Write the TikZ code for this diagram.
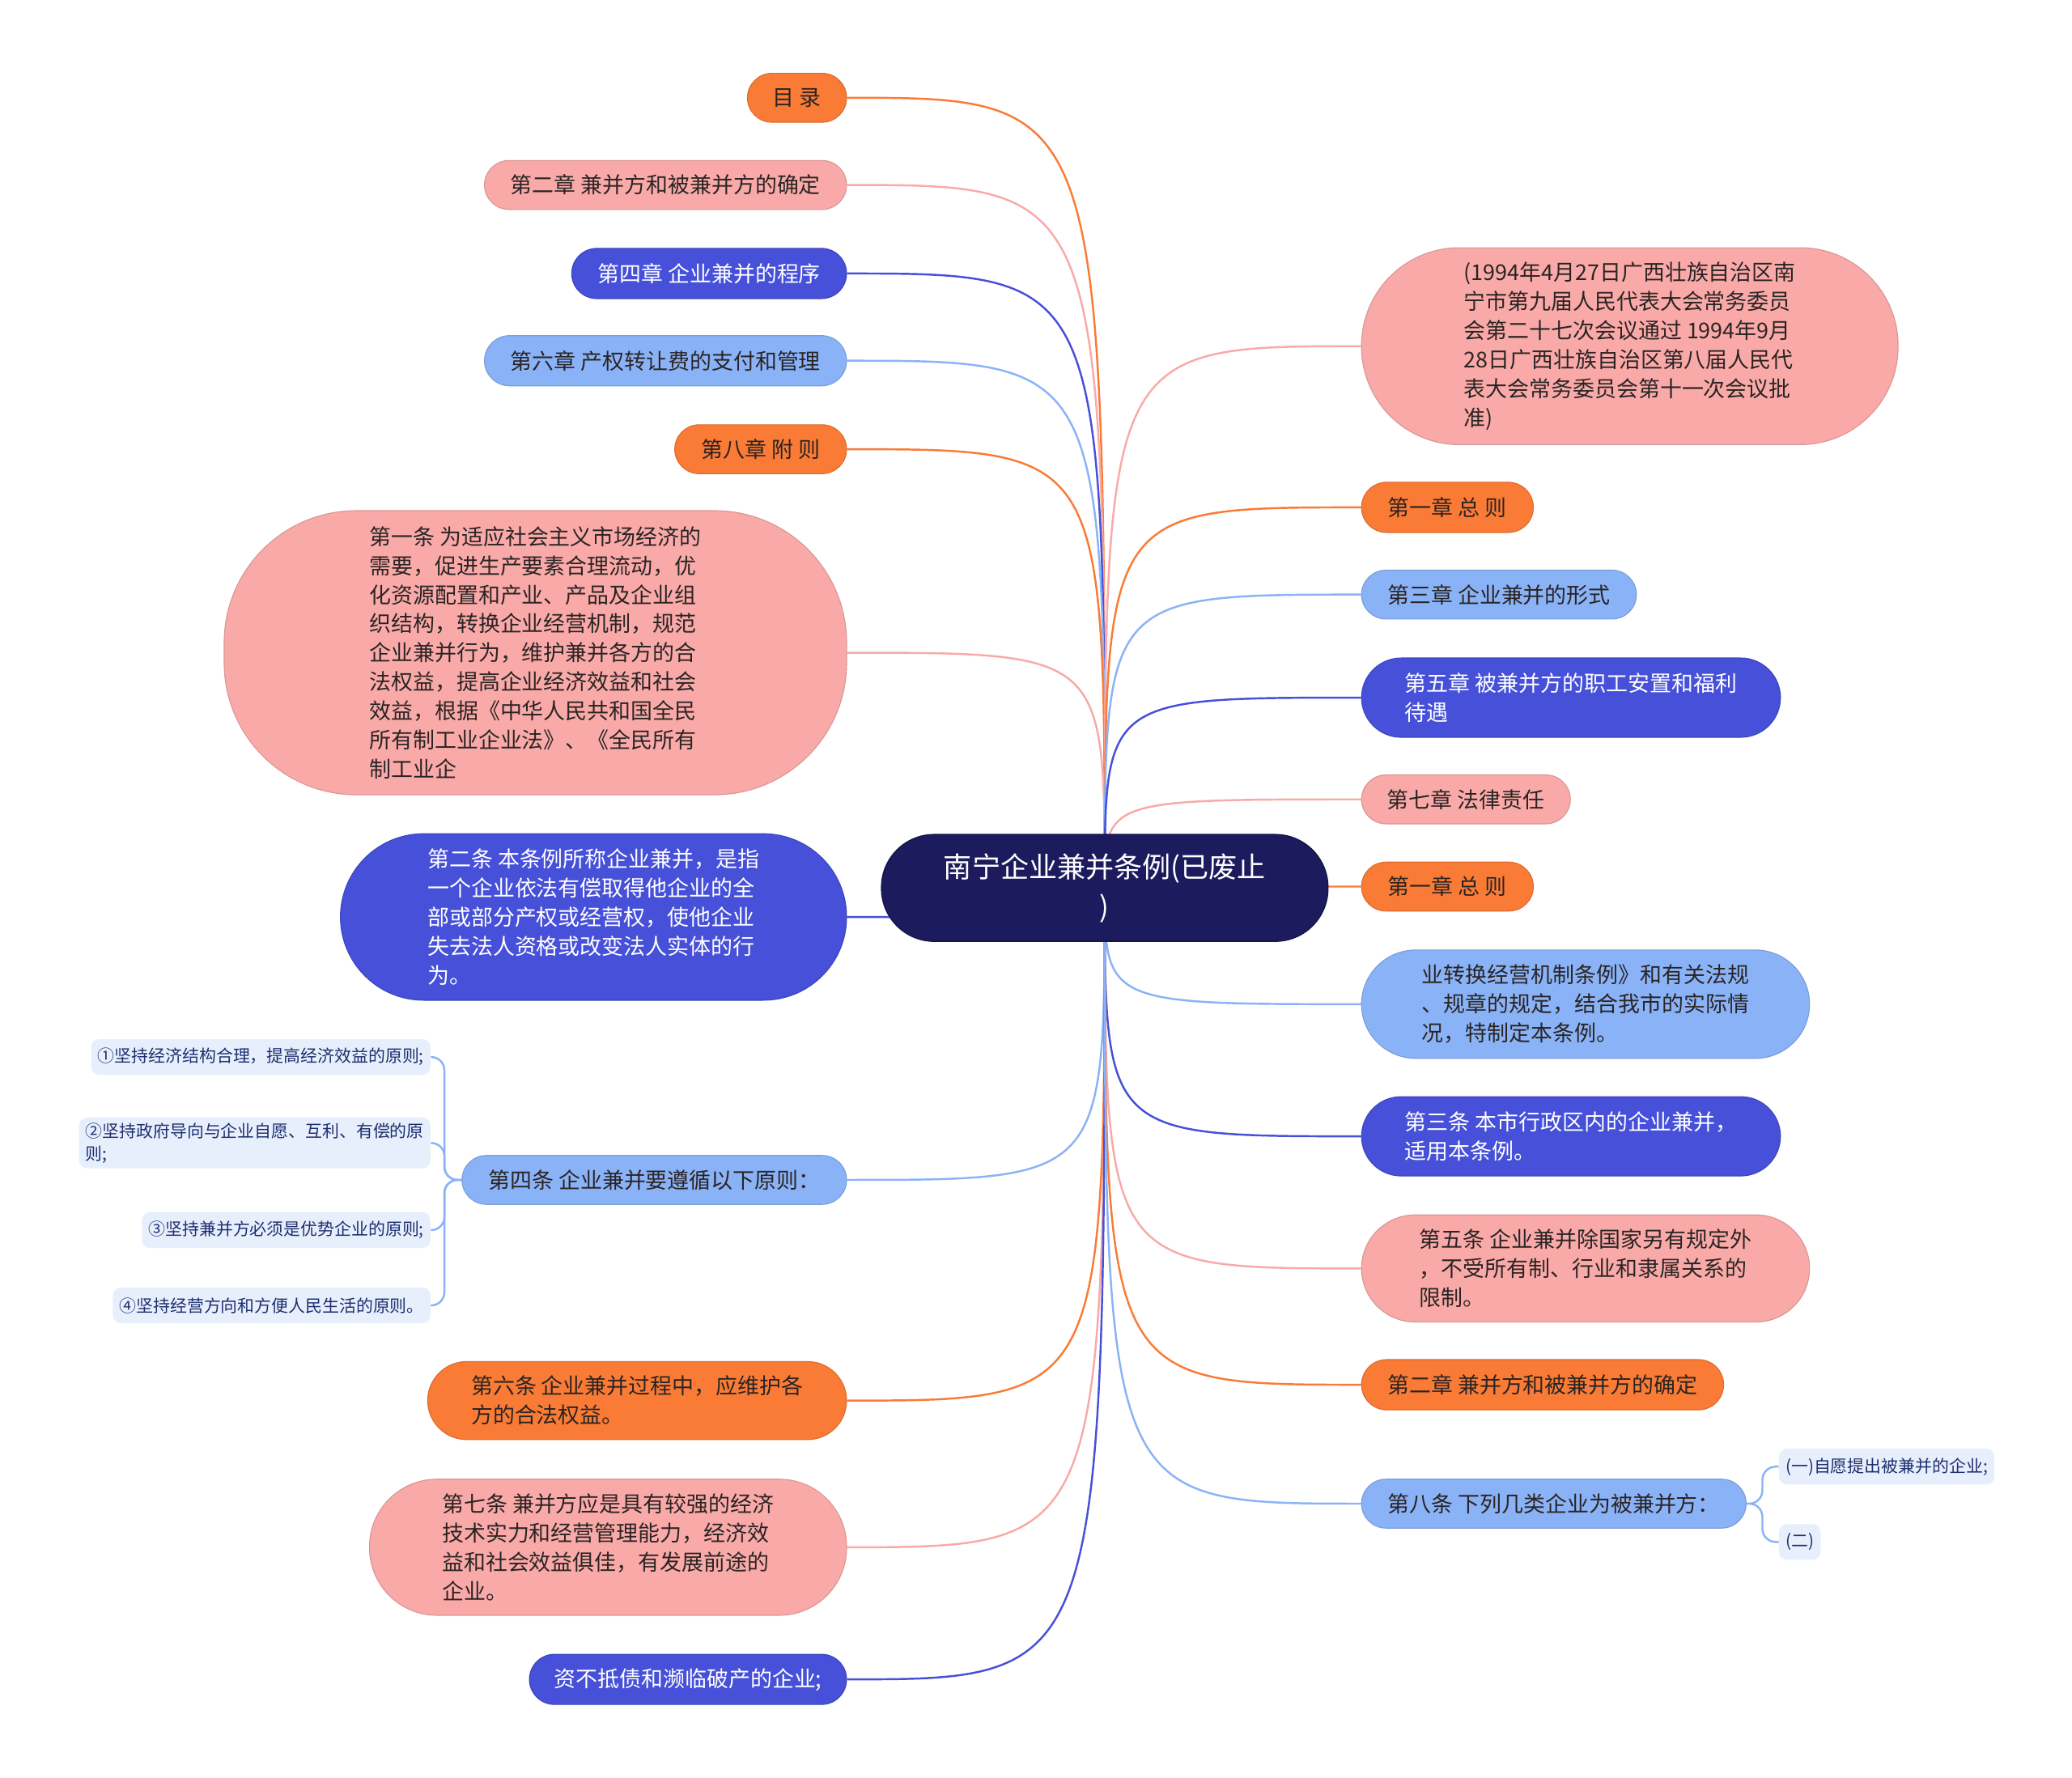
\documentclass[tikz,border=0pt]{standalone}
\usepackage{fontspec}
\setmainfont{Noto Sans CJK SC}
\usetikzlibrary{backgrounds}

\definecolor{cOrange}{HTML}{FA7B35}
\definecolor{cPink}{HTML}{F9AAA8}
\definecolor{cBlue}{HTML}{4650D8}
\definecolor{cSky}{HTML}{8AB3F7}
\definecolor{cNavy}{HTML}{1C1B5E}
\definecolor{cPale}{HTML}{E7EFFD}
\definecolor{cInk}{HTML}{2A2424}
\definecolor{cSubInk}{HTML}{1E2F6E}

\begin{document}
\begin{tikzpicture}[x=1pt, y=-1pt]

\tikzset{topic/.style = {shape=rectangle, draw=#1!88!black, fill=#1, line width=0.7pt, inner sep=0pt, align=left, text=cInk, font=\fontsize{16.5}{22}\selectfont}}
\tikzset{pill/.style n args = {3}{minimum width=#1pt, minimum height=#2pt, rounded corners=#3pt}}
\tikzset{light/.style = {text=white}}
\tikzset{sub/.style = {shape=rectangle, fill=cPale, rounded corners=6pt, inner xsep=5pt, inner ysep=4pt, minimum height=27pt, align=left, text=cSubInk, font=\fontsize{12.8}{17}\selectfont}}
\tikzset{link/.style = {line width=1.5pt}}

\useasboundingbox (0,0) rectangle (1568,1345.6);

% root
\node[shape=rectangle, fill=cNavy, draw=cNavy!70!black, line width=0.7pt, rounded corners=40pt, minimum width=338pt, minimum height=81pt, align=center, text=white, font=\fontsize{21.5}{30}\selectfont] (root) at (836,672) {南宁企业兼并条例(已废止\\)};

% left branches
\node[topic=cOrange, pill={75}{37}{18.5}, anchor=east] (toc) at (641,74) {目 录};
\node[topic=cPink, pill={274}{37}{18.5}, anchor=east] (ch2l) at (641,140) {第二章 兼并方和被兼并方的确定};
\node[topic=cBlue, light, pill={208}{38}{19}, anchor=east] (ch4) at (641,207) {第四章 企业兼并的程序};
\node[topic=cSky, pill={274}{38}{19}, anchor=east] (ch6) at (641,273) {第六章 产权转让费的支付和管理};
\node[topic=cOrange, pill={130}{37}{18.5}, anchor=east] (ch8) at (641,340) {第八章 附 则};
\node[topic=cPink, pill={471}{215}{100}, anchor=east] (art1) at (641,494) {第一条 为适应社会主义市场经济的\\需要，促进生产要素合理流动，优\\化资源配置和产业、产品及企业组\\织结构，转换企业经营机制，规范\\企业兼并行为，维护兼并各方的合\\法权益，提高企业经济效益和社会\\效益，根据《中华人民共和国全民\\所有制工业企业法》、《全民所有\\制工业企};
\node[topic=cBlue, light, pill={383}{126}{63}, anchor=east] (art2) at (641,694) {第二条 本条例所称企业兼并，是指\\一个企业依法有偿取得他企业的全\\部或部分产权或经营权，使他企业\\失去法人资格或改变法人实体的行\\为。};
\node[topic=cSky, pill={291}{37}{18.5}, anchor=east] (art4) at (641,893) {第四条 企业兼并要遵循以下原则：};
\node[topic=cOrange, pill={317}{59}{29.5}, anchor=east] (art6) at (641,1060) {第六条 企业兼并过程中，应维护各\\方的合法权益。};
\node[topic=cPink, pill={361}{103}{51}, anchor=east] (art7) at (641,1171) {第七条 兼并方应是具有较强的经济\\技术实力和经营管理能力，经济效\\益和社会效益俱佳，有发展前途的\\企业。};
\node[topic=cBlue, light, pill={240}{38}{19}, anchor=east] (debt) at (641,1271) {资不抵债和濒临破产的企业;};

% principles of article four
\node[sub, anchor=east] (p1) at (326,800) {①坚持经济结构合理，提高经济效益的原则;};
\node[sub, anchor=east] (p2) at (326,865) {②坚持政府导向与企业自愿、互利、有偿的原\\则;};
\node[sub, anchor=east] (p3) at (326,931) {③坚持兼并方必须是优势企业的原则;};
\node[sub, anchor=east] (p4) at (326,988) {④坚持经营方向和方便人民生活的原则。};

% right branches
\node[topic=cPink, pill={406}{149}{74}, anchor=west] (note) at (1030,262) {(1994年4月27日广西壮族自治区南\\宁市第九届人民代表大会常务委员\\会第二十七次会议通过 1994年9月\\28日广西壮族自治区第八届人民代\\表大会常务委员会第十一次会议批\\准)};
\node[topic=cOrange, pill={130}{38}{19}, anchor=west] (ch1a) at (1030,384) {第一章 总 则};
\node[topic=cSky, pill={208}{37}{18.5}, anchor=west] (ch3) at (1030,450) {第三章 企业兼并的形式};
\node[topic=cBlue, light, pill={317}{60}{30}, anchor=west] (ch5) at (1030,528) {第五章 被兼并方的职工安置和福利\\待遇};
\node[topic=cPink, pill={158}{37}{18.5}, anchor=west] (ch7) at (1030,605) {第七章 法律责任};
\node[topic=cOrange, pill={130}{37}{18.5}, anchor=west] (ch1b) at (1030,671) {第一章 总 则};
\node[topic=cSky, pill={339}{82}{41}, anchor=west] (cont) at (1030,760) {业转换经营机制条例》和有关法规\\、规章的规定，结合我市的实际情\\况，特制定本条例。};
\node[topic=cBlue, light, pill={317}{60}{30}, anchor=west] (art3) at (1030,860) {第三条 本市行政区内的企业兼并，\\适用本条例。};
\node[topic=cPink, pill={339}{81}{40.5}, anchor=west] (art5) at (1030,960) {第五条 企业兼并除国家另有规定外\\，不受所有制、行业和隶属关系的\\限制。};
\node[topic=cOrange, pill={274}{38}{19}, anchor=west] (ch2r) at (1030,1048) {第二章 兼并方和被兼并方的确定};
\node[topic=cSky, pill={291}{37}{18.5}, anchor=west] (art8) at (1030,1138) {第八条 下列几类企业为被兼并方：};

% kinds of article eight
\node[sub, anchor=west] (k1) at (1346,1110) {(一)自愿提出被兼并的企业;};
\node[sub, anchor=west] (k2) at (1346,1167) {(二)};

\begin{scope}[on background layer]
\fill[white] (0,0) rectangle (1568,1345.6);

% edges, left
\draw[link, cOrange] (root.center) .. controls (root.center |- toc.east) .. (toc.east);
\draw[link, cPink] (root.center) .. controls (root.center |- ch2l.east) .. (ch2l.east);
\draw[link, cBlue] (root.center) .. controls (root.center |- ch4.east) .. (ch4.east);
\draw[link, cSky] (root.center) .. controls (root.center |- ch6.east) .. (ch6.east);
\draw[link, cOrange] (root.center) .. controls (root.center |- ch8.east) .. (ch8.east);
\draw[link, cPink] (root.center) .. controls (root.center |- art1.east) .. (art1.east);
\draw[link, cBlue] (root.center) .. controls (root.center |- art2.east) .. (art2.east);
\draw[link, cSky] (root.center) .. controls (root.center |- art4.east) .. (art4.east);
\draw[link, cOrange] (root.center) .. controls (root.center |- art6.east) .. (art6.east);
\draw[link, cPink] (root.center) .. controls (root.center |- art7.east) .. (art7.east);
\draw[link, cBlue] (root.center) .. controls (root.center |- debt.east) .. (debt.east);

% edges, right
\draw[link, cPink] (root.center) .. controls (root.center |- note.west) .. (note.west);
\draw[link, cOrange] (root.center) .. controls (root.center |- ch1a.west) .. (ch1a.west);
\draw[link, cSky] (root.center) .. controls (root.center |- ch3.west) .. (ch3.west);
\draw[link, cBlue] (root.center) .. controls (root.center |- ch5.west) .. (ch5.west);
\draw[link, cPink] (root.center) .. controls (root.center |- ch7.west) .. (ch7.west);
\draw[link, cOrange] (root.center) .. controls (root.center |- ch1b.west) .. (ch1b.west);
\draw[link, cSky] (root.center) .. controls (root.center |- cont.west) .. (cont.west);
\draw[link, cBlue] (root.center) .. controls (root.center |- art3.west) .. (art3.west);
\draw[link, cPink] (root.center) .. controls (root.center |- art5.west) .. (art5.west);
\draw[link, cOrange] (root.center) .. controls (root.center |- ch2r.west) .. (ch2r.west);
\draw[link, cSky] (root.center) .. controls (root.center |- art8.west) .. (art8.west);

% sub edges
\draw[link, cSky, rounded corners=10pt] (art4.west) -- ([xshift=-13pt]art4.west) |- (p1.east);
\draw[link, cSky, rounded corners=10pt] (art4.west) -- ([xshift=-13pt]art4.west) |- (p2.east);
\draw[link, cSky, rounded corners=10pt] (art4.west) -- ([xshift=-13pt]art4.west) |- (p3.east);
\draw[link, cSky, rounded corners=10pt] (art4.west) -- ([xshift=-13pt]art4.west) |- (p4.east);
\draw[link, cSky, rounded corners=10pt] (art8.east) -- ([xshift=12pt]art8.east) |- (k1.west);
\draw[link, cSky, rounded corners=10pt] (art8.east) -- ([xshift=12pt]art8.east) |- (k2.west);
\end{scope}

\end{tikzpicture}
\end{document}
